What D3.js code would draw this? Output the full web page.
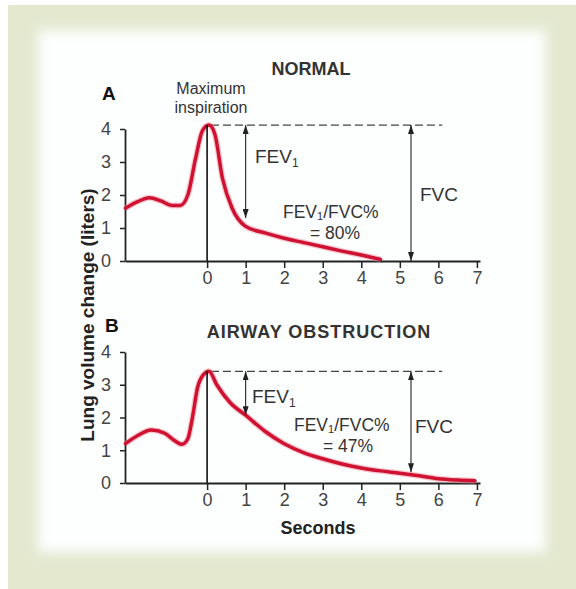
<!DOCTYPE html>
<html>
<head>
<meta charset="utf-8">
<script src="https://cdn.jsdelivr.net/npm/d3@7"></script>
<style>
  body { margin: 0; background: #fff; }
  svg text { font-family: "Liberation Sans", Arial, sans-serif; fill: #333; }
</style>
</head>
<body>
<div id="chart"></div>
<script>
// ---- data ----
var seconds = [0, 1, 2, 3, 4, 5, 6, 7];
var volumeTicks = [0, 1, 2, 3, 4];

// normal subject (panel A)
var normalTime   = [-2.12, -1.8, -1.5, -1.2, -0.9, -0.7, -0.5, -0.3, -0.12, 0.05, 0.2, 0.4, 0.65, 1, 1.5, 2, 2.5, 3, 3.5, 4, 4.5];
var normalVolume = [1.6, 1.8, 1.92, 1.82, 1.68, 1.68, 2.0, 3.1, 3.95, 4.12, 3.85, 2.5, 1.6, 1.05, 0.85, 0.69, 0.56, 0.43, 0.3, 0.18, 0.05];

// airway obstruction (panel B)
var obstructTime   = [-2.12, -1.8, -1.45, -1.1, -0.85, -0.65, -0.5, -0.38, -0.25, -0.1, 0.05, 0.25, 0.6, 1, 1.5, 2, 2.5, 3, 3.5, 4, 4.5, 5, 5.5, 6, 6.5, 6.95];
var obstructVolume = [1.2, 1.45, 1.62, 1.52, 1.3, 1.18, 1.35, 2.0, 2.9, 3.3, 3.41, 3.0, 2.45, 2.07, 1.58, 1.2, 0.93, 0.74, 0.58, 0.46, 0.37, 0.3, 0.22, 0.13, 0.09, 0.07];

var panelTitles  = ["NORMAL", "AIRWAY OBSTRUCTION"];
var panelLetters = ["A", "B"];
var peakVolume   = [4.12, 3.41];   // maximum inspiration
var fev1Volume   = [1.3, 2.07];    // volume left after 1 s
var fvcVolume    = [0, 0.33];      // bottom of FVC arrow
var fvcTime      = 5.29;
var ratioLabels  = ["= 80%", "= 47%"];

var width = 576, height = 589;

var svg = d3.select("#chart").append("svg")
  .attr("width", width)
  .attr("height", height);

var defs = svg.append("defs");
defs.append("filter").attr("id", "soft")
  .attr("x", "-10%").attr("y", "-10%").attr("width", "120%").attr("height", "120%")
  .append("feGaussianBlur").attr("stdDeviation", 6);

defs.append("marker")
  .attr("id", "arrow")
  .attr("viewBox", "0 0 9 6")
  .attr("refX", 9).attr("refY", 3)
  .attr("markerWidth", 9).attr("markerHeight", 6)
  .attr("markerUnits", "userSpaceOnUse")
  .attr("orient", "auto-start-reverse")
  .append("path")
  .attr("d", "M0,0 L9,3 L0,6 Z")
  .attr("fill", "#222");

// frame: greenish border with a soft white card
svg.append("rect")
  .attr("x", 8).attr("y", 5).attr("width", width - 8).attr("height", height - 5)
  .attr("fill", "#e3e8cf");
svg.append("rect")
  .attr("x", 38).attr("y", 30).attr("width", 508).attr("height", 522)
  .attr("fill", "#fdfefe")
  .attr("filter", "url(#soft)");

var x = d3.scaleLinear().domain([-2.13, 7.08]).range([125, 480]);

// per panel layout
var panels = [
  { y0: 261, y4: 129, time: normalTime, vol: normalVolume,
    title: [311, 75], letter: [102, 100], fev: [255, 163], ratio: [283, 218], ratio2: [335, 239], fvc: [420, 201] },
  { y0: 483, y4: 352, time: obstructTime, vol: obstructVolume,
    title: [319, 338], letter: [105, 332], fev: [252, 403], ratio: [294, 431], ratio2: [348, 452], fvc: [415, 433] }
];

panels.forEach(function(p, i) {
  var y = d3.scaleLinear().domain([0, 4]).range([p.y0, p.y4]);
  var g = svg.append("g");

  // axes
  var xa = g.append("g")
    .attr("transform", "translate(0," + y(0) + ")")
    .call(d3.axisBottom(x).tickValues(seconds).tickFormat(d3.format("d"))
      .tickSize(7).tickPadding(3).tickSizeOuter(0));
  var ya = g.append("g")
    .attr("transform", "translate(" + x.range()[0] + ",0)")
    .call(d3.axisLeft(y).tickValues(volumeTicks).tickFormat(d3.format("d"))
      .tickSize(5).tickPadding(9).tickSizeOuter(0));
  [xa, ya].forEach(function(a) {
    a.select(".domain").attr("stroke", "#222").attr("stroke-width", 1.8);
    a.selectAll(".tick line").attr("stroke", "#222").attr("stroke-width", 1.5);
    a.selectAll(".tick text").attr("font-size", 18).attr("font-family", null).style("fill", "#444");
  });

  // dashed peak line
  g.append("line")
    .attr("x1", x(0.1)).attr("x2", x(6.1))
    .attr("y1", y(peakVolume[i])).attr("y2", y(peakVolume[i]))
    .attr("stroke", "#444").attr("stroke-width", 1.3)
    .attr("stroke-dasharray", "8,4");

  // volume-time curve
  var line = d3.line()
    .x(function(d) { return x(d[0]); })
    .y(function(d) { return y(d[1]); })
    .curve(d3.curveMonotoneX);
  var pts = d3.zip(p.time, p.vol);
  g.append("path").datum(pts)
    .attr("d", line).attr("fill", "none")
    .attr("stroke", "#f08a9a").attr("stroke-width", 6).attr("stroke-opacity", 0.45)
    .attr("stroke-linejoin", "round");
  g.append("path").datum(pts)
    .attr("d", line).attr("fill", "none")
    .attr("stroke", "#cf1232").attr("stroke-width", 3.5)
    .attr("stroke-linejoin", "round").attr("stroke-linecap", "round");

  // vertical line at t = 0
  g.append("line")
    .attr("x1", x(0)).attr("x2", x(0))
    .attr("y1", y(0)).attr("y2", y(peakVolume[i]))
    .attr("stroke", "#111").attr("stroke-width", 1.6);

  // FEV1 and FVC arrows
  g.append("line")
    .attr("x1", x(1)).attr("x2", x(1))
    .attr("y1", y(peakVolume[i])).attr("y2", y(fev1Volume[i]))
    .attr("stroke", "#222").attr("stroke-width", 1.1)
    .attr("marker-start", "url(#arrow)").attr("marker-end", "url(#arrow)");
  g.append("line")
    .attr("x1", x(fvcTime)).attr("x2", x(fvcTime))
    .attr("y1", y(peakVolume[i])).attr("y2", y(fvcVolume[i]))
    .attr("stroke", "#222").attr("stroke-width", 1.1)
    .attr("marker-start", "url(#arrow)").attr("marker-end", "url(#arrow)");

  // labels
  g.append("text").attr("x", p.title[0]).attr("y", p.title[1])
    .attr("text-anchor", "middle").attr("font-size", 18).attr("font-weight", "bold")
    .attr("letter-spacing", i == 1 ? 1 : 0)
    .text(panelTitles[i]);
  g.append("text").attr("x", p.letter[0]).attr("y", p.letter[1])
    .attr("font-size", 19).attr("font-weight", "bold").style("fill", "#111")
    .text(panelLetters[i]);

  var fev = g.append("text").attr("x", p.fev[0]).attr("y", p.fev[1]).attr("font-size", 19);
  fev.append("tspan").text("FEV");
  fev.append("tspan").attr("font-size", 12).attr("dy", 4).text("1");

  var r = g.append("text").attr("x", p.ratio[0]).attr("y", p.ratio[1]).attr("font-size", 17.5);
  r.append("tspan").text("FEV");
  r.append("tspan").attr("font-size", 11).attr("dy", 2).text("1");
  r.append("tspan").attr("dy", -2).text("/FVC%");
  g.append("text").attr("x", p.ratio2[0]).attr("y", p.ratio2[1])
    .attr("text-anchor", "middle").attr("font-size", 17.5)
    .text(ratioLabels[i]);

  g.append("text").attr("x", p.fvc[0]).attr("y", p.fvc[1]).attr("font-size", 19).text("FVC");
});

// maximum inspiration note (panel A)
svg.append("text").attr("x", 211).attr("y", 94)
  .attr("text-anchor", "middle").attr("font-size", 16).text("Maximum");
svg.append("text").attr("x", 211).attr("y", 113)
  .attr("text-anchor", "middle").attr("font-size", 16).text("inspiration");

// axis titles
svg.append("text")
  .attr("transform", "translate(94,315) rotate(-90)")
  .attr("text-anchor", "middle").attr("font-size", 19).attr("font-weight", "bold")
  .style("fill", "#222")
  .text("Lung volume change (liters)");
svg.append("text").attr("x", 318).attr("y", 534)
  .attr("text-anchor", "middle").attr("font-size", 18).attr("font-weight", "bold")
  .style("fill", "#222")
  .text("Seconds");
</script>
</body>
</html>
